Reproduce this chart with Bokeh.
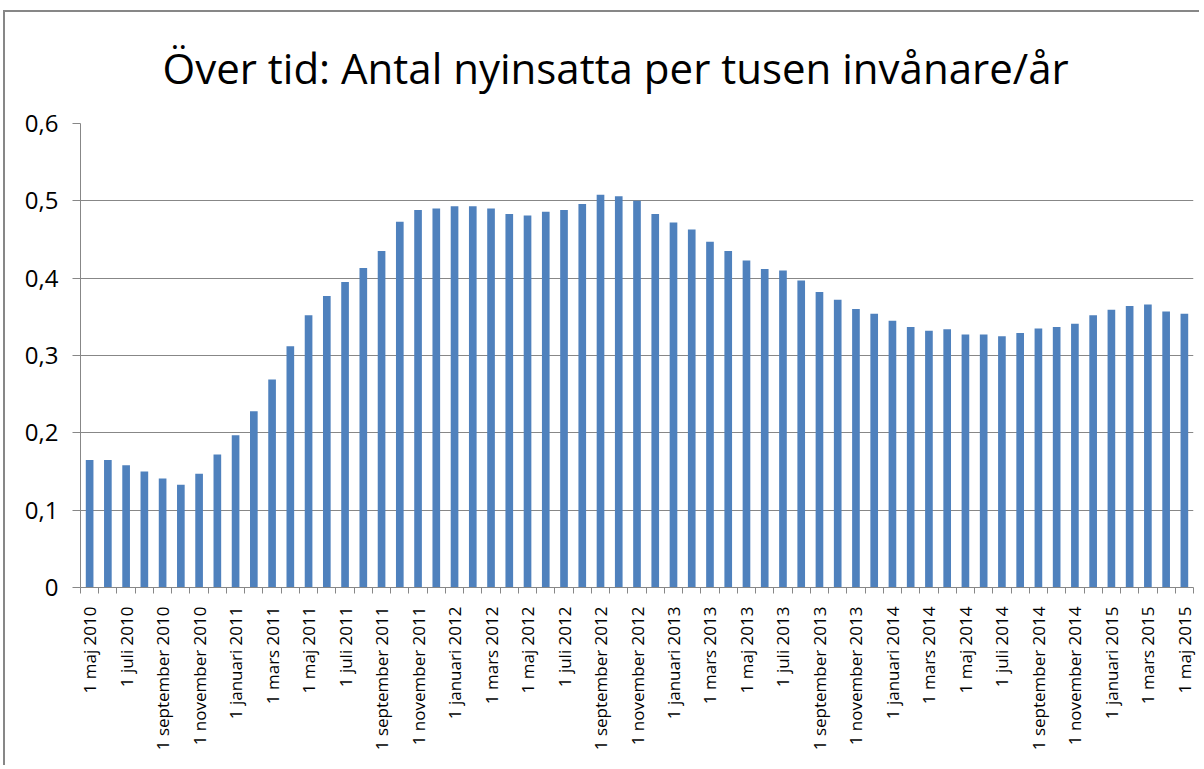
import math
from bokeh.plotting import figure
from bokeh.models import FixedTicker, CustomJSTickFormatter, ColumnDataSource, Range1d
from bokeh.embed import file_html
from bokeh.resources import INLINE

# ---- data ----
month_names = ["januari", "februari", "mars", "april", "maj", "juni", "juli",
               "augusti", "september", "oktober", "november", "december"]
start_year = 2010
start_month = 5  # maj

values = [0.165, 0.165, 0.158, 0.150, 0.141, 0.133, 0.147, 0.172, 0.197, 0.228,
          0.269, 0.312, 0.352, 0.377, 0.395, 0.413, 0.435, 0.473, 0.488, 0.490,
          0.493, 0.493, 0.490, 0.483, 0.481, 0.486, 0.488, 0.496, 0.508, 0.506,
          0.500, 0.483, 0.472, 0.463, 0.447, 0.435, 0.423, 0.412, 0.410, 0.397,
          0.382, 0.372, 0.360, 0.354, 0.345, 0.337, 0.332, 0.334, 0.327, 0.327,
          0.325, 0.329, 0.335, 0.337, 0.341, 0.352, 0.359, 0.364, 0.366, 0.357,
          0.354]

labels = []
for i in range(len(values)):
    m = start_month - 1 + i
    labels.append(f"1 {month_names[m % 12]} {start_year + m // 12}")

y_ticks = [0, 0.1, 0.2, 0.3, 0.4, 0.5, 0.6]
title_text = "Över tid: Antal nyinsatta per tusen invånare/år"

# ---- styles ----
FONT = "Open Sans"
GRID = "#878787"
BAR = "#4F81BD"

idx = list(range(len(values)))
src = ColumnDataSource(dict(x=idx, top=values, label=labels))

p = figure(width=1196, height=755, output_backend="svg", toolbar_location=None,
           x_range=Range1d(-0.5, len(values) - 0.5), y_range=Range1d(0, 0.6),
           min_border_left=75, min_border_right=8, min_border_top=111,
           min_border_bottom=180)
p.styles = {"margin-left": "3px", "margin-top": "10px",
            "border-left": "2px solid #878787", "border-top": "2px solid #878787"}

p.vbar(x="x", top="top", width=0.42, source=src, fill_color=BAR, line_color=None)

p.title.text = title_text
p.title.text_font = FONT
p.title.text_font_size = "42px"
p.title.text_font_style = "normal"
p.title.text_color = "black"
p.title.align = "left"
p.title.offset = 82
p.title.vertical_align = "top"
p.title.standoff = 52

p.outline_line_color = None
p.background_fill_color = "white"
p.border_fill_color = "white"

# x axis
xa = p.xaxis[0]
xa.ticker = FixedTicker(ticks=idx[::2], minor_ticks=[i - 0.5 for i in range(len(values) + 1)])
xa.formatter = CustomJSTickFormatter(args=dict(labels=labels),
                                     code="return labels[Math.round(tick)];")
xa.major_label_orientation = math.pi / 2
xa.major_tick_line_color = None
xa.major_tick_out = 0
xa.major_tick_in = 0
xa.minor_tick_line_color = GRID
xa.minor_tick_out = 6
xa.minor_tick_in = 0
xa.axis_line_color = GRID
xa.major_label_standoff = 13
xa.major_label_text_font = FONT
xa.major_label_text_font_size = "17px"
xa.major_label_text_color = "black"

# y axis
ya = p.yaxis[0]
ya.ticker = FixedTicker(ticks=y_ticks)
ya.formatter = CustomJSTickFormatter(
    code="return tick == 0 ? '0' : tick.toFixed(1).replace('.', ',');")
ya.major_tick_line_color = GRID
ya.major_tick_out = 8
ya.major_tick_in = 0
ya.minor_tick_line_color = None
ya.axis_line_color = GRID
ya.major_label_standoff = 14
ya.major_label_text_font = FONT
ya.major_label_text_font_size = "24px"
ya.major_label_text_color = "black"

p.xgrid.visible = False
p.ygrid.ticker = FixedTicker(ticks=y_ticks)
p.ygrid.grid_line_color = GRID
p.ygrid.grid_line_width = 1

open("out.html", "w").write(file_html(p, INLINE))
